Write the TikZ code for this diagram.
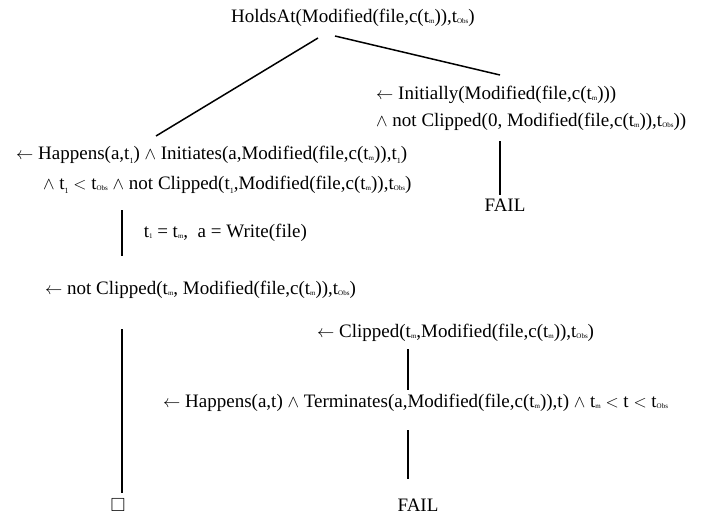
\documentclass[tikz,border=0pt]{standalone}
\usepackage{fontspec}
\usepackage{amssymb}
\setmainfont{Liberation Serif}
\newcommand{\sm}[1]{\raisebox{-0.15ex}{\fontsize{7}{7}\selectfont #1}}
\newcommand{\tm}{t\sm{m}}
\newcommand{\tobs}{t\sm{Obs}}
\newcommand{\tone}{t\raisebox{-0.45ex}{\fontsize{8}{8}\selectfont 1}}
\begin{document}
\begin{tikzpicture}[x=1pt,y=-1pt,txt/.style={inner sep=0pt,font=\fontsize{19}{22}\selectfont},edge/.style={line width=1.5pt}]
	\useasboundingbox (0,0) rectangle (702,514);
	\node[txt] at (353,18) (goal) {HoldsAt(Modified(file,c(\tm)),\tobs)};
	% right branch
	\node[txt,anchor=west] at (376,95) (init1) {$\leftarrow$ Initially(Modified(file,c(\tm)))};
	\node[txt,anchor=west] at (376,122) (init2) {$\wedge$ not Clipped(0, Modified(file,c(\tm)),\tobs))};
	\node[txt] at (505,205) (fail1) {FAIL};
	% left branch
	\node[txt,anchor=west] at (16,155) (hap1) {$\leftarrow$ Happens(a,\tone) $\wedge$ Initiates(a,Modified(file,c(\tm)),\tone)};
	\node[txt,anchor=west] at (43,185) (hap2) {$\wedge$ \tone{} $<$ \tobs{} $\wedge$ not Clipped(\tone,Modified(file,c(\tm)),\tobs)};
	\node[txt,anchor=west] at (45,290) (nclip) {$\leftarrow$ not Clipped(\tm, Modified(file,c(\tm)),\tobs)};
	\node[txt] at (118,505) (empty) {$\square$};
	% clipped subproof
	\node[txt,anchor=west] at (317,333) (clip) {$\leftarrow$ Clipped(\tm,Modified(file,c(\tm)),\tobs)};
	\node[txt,anchor=west] at (163,403) (term) {$\leftarrow$ Happens(a,t) $\wedge$ Terminates(a,Modified(file,c(\tm)),t) $\wedge$ \tm{} $<$ t $<$ \tobs};
	\node[txt] at (418,505) (fail2) {FAIL};

	\coordinate (g1) at (318,38);
	\coordinate (g2) at (335,36);
	\coordinate (h1) at (156,136);
	\coordinate (i1) at (500,75);
	\draw[edge] (g1) -- (h1);
	\draw[edge] (g2) -- (i1);
	\draw[edge] (500,141) -- (500,195);
	\draw[edge] (122,210) -- (122,256) node [midway,right,xshift=21,txt] (sub) {t\sm{1} = \tm,~ a = Write(file)};
	\draw[edge] (122,329) -- (122,493);
	\draw[edge] (408,349) -- (408,390);
	\draw[edge] (408,430) -- (408,479);
\end{tikzpicture}
\end{document}
